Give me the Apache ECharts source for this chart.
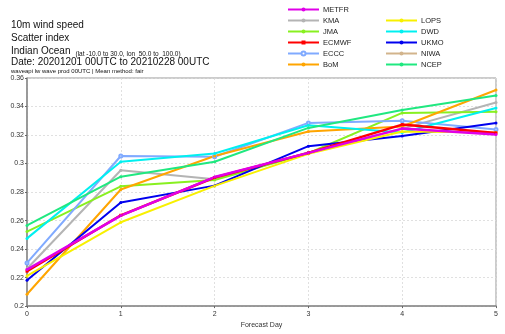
<!DOCTYPE html>
<html>
<head>
<meta charset="utf-8">
<script src="https://cdn.jsdelivr.net/npm/echarts@6/dist/echarts.min.js"></script>
<style>
  html, body { margin: 0; padding: 0; background: #fff; }
  #chart { width: 505px; height: 334px; }
</style>
</head>
<body>
<div id="chart"></div>
<script>
// forecast days and scatter index per centre
let days = [0, 1, 2, 3, 4, 5];
let metfr = [0.2256, 0.2635, 0.2905, 0.3075, 0.3245, 0.3203];
let kma = [0.2262, 0.2953, 0.2890, 0.3078, 0.3245, 0.3428];
let jma = [0.2523, 0.2840, 0.2885, 0.3072, 0.3355, 0.3364];
let ecmwf = [0.2245, 0.2637, 0.2902, 0.3075, 0.3273, 0.3215];
let eccc = [0.2303, 0.3053, 0.3048, 0.3285, 0.3300, 0.3239];
let bom = [0.2083, 0.2818, 0.3053, 0.3225, 0.3260, 0.3516];
let lops = [0.2212, 0.2588, 0.2843, 0.3068, 0.3225, 0.3217];
let dwd = [0.2475, 0.3013, 0.3070, 0.3268, 0.3218, 0.3390];
let ukmo = [0.2182, 0.2727, 0.2845, 0.3122, 0.3193, 0.3285];
let niwa = [];
let ncep = [0.2566, 0.2908, 0.3013, 0.3250, 0.3376, 0.3478];

let FONT = 'Liberation Sans';

function mk(name, vals, color, symbol, width, z) {
    return {
        name: name,
        type: 'line',
        data: vals.map((v, i) => [days[i], v]),
        symbol: symbol,
        symbolSize: 3,
        showSymbol: true,
        lineStyle: {color: color, width: width},
        itemStyle: {color: color},
        z: z,
        animation: false
    }
}

let series = [
    mk('KMA', kma, '#b4b4b4', 'circle', 2, 2),
    mk('JMA', jma, '#88f020', 'circle', 2, 2),
    mk('ECCC', eccc, '#80aaff', 'emptyCircle', 2, 2),
    mk('BoM', bom, '#ffa500', 'circle', 2, 2),
    mk('DWD', dwd, '#00f0f0', 'circle', 2, 2),
    mk('NCEP', ncep, '#20e880', 'circle', 2, 2),
    mk('NIWA', niwa, '#d2b48c', 'circle', 2, 2),
    mk('UKMO', ukmo, '#0000ee', 'circle', 2, 3),
    mk('LOPS', lops, '#f8f000', 'circle', 2, 3),
    mk('ECMWF', ecmwf, '#ff0000', 'rect', 2.5, 4),
    mk('METFR', metfr, '#e000e8', 'circle', 2.5, 4)
];

let chart = echarts.init(document.getElementById('chart'), null, {renderer: 'canvas'});

let legendBase = {
    orient: 'vertical',
    itemWidth: 31,
    itemHeight: 5,
    itemGap: 3,
    textStyle: {fontFamily: FONT, fontSize: 7.5, color: '#222', padding: [0, 0, 0, -1]},
    padding: 0
};

let big = {fontFamily: FONT, fontSize: 10, fontWeight: 'normal', color: '#111'};

chart.setOption({
    backgroundColor: '#fff',
    animation: false,
    title: [
        {text: '10m wind speed', left: 11, top: 20.5, padding: 0, textStyle: big},
        {text: 'Scatter index', left: 11, top: 33, padding: 0, textStyle: big},
        {text: '{a|Indian Ocean} {b|(lat -10.0 to 30.0, lon  50.0 to  100.0)}', left: 11, top: 45.5, padding: 0,
            textStyle: {fontWeight: 'normal', lineHeight: 12, rich: {
                a: Object.assign({lineHeight: 12}, big),
                b: {fontFamily: FONT, fontSize: 6.5, fontWeight: 'normal', color: '#111', lineHeight: 12,
                    verticalAlign: 'bottom'}
            }}},
        {text: 'Date: 20201201 00UTC to 20210228 00UTC', left: 11, top: 57.5, padding: 0, textStyle: big},
        {text: 'waveapi lw wave prod 00UTC | Mean method: fair', left: 11, top: 68, padding: 0,
            textStyle: {fontFamily: FONT, fontSize: 6, fontWeight: 'normal', color: '#111'}}
    ],
    legend: [
        Object.assign({left: 287, top: 5.5, data: ['METFR', 'KMA', 'JMA', 'ECMWF', 'ECCC', 'BoM']}, legendBase),
        Object.assign({left: 385, top: 16.5, data: ['LOPS', 'DWD', 'UKMO', 'NIWA', 'NCEP']}, legendBase)
    ],
    grid: {left: 27, right: 9, top: 78, bottom: 25, containLabel: false,
        show: true, borderColor: '#999', borderWidth: 1},
    xAxis: {
        type: 'value', min: 0, max: 5, interval: 1,
        name: 'Forecast Day', nameLocation: 'middle', nameGap: 14,
        nameTextStyle: {fontFamily: FONT, fontSize: 7, color: '#333'},
        axisLine: {show: true, lineStyle: {color: '#888', width: 1.5}},
        axisTick: {show: true, length: 2, lineStyle: {color: '#666'}},
        axisLabel: {fontFamily: FONT, fontSize: 7, color: '#333', margin: 4},
        splitLine: {show: true, lineStyle: {color: '#d8d8d8', type: [2, 2], width: 0.8}}
    },
    yAxis: {
        type: 'value', min: 0.2, max: 0.36, interval: 0.02,
        axisLine: {show: true, lineStyle: {color: '#888', width: 1.5}},
        axisTick: {show: true, length: 2, lineStyle: {color: '#666'}},
        axisLabel: {fontFamily: FONT, fontSize: 7, color: '#333', margin: 3,
            formatter: v => String(parseFloat(v.toFixed(2)))},
        splitLine: {show: true, lineStyle: {color: '#d8d8d8', type: [2, 2], width: 0.8}}
    },
    series: series
});
</script>
</body>
</html>
